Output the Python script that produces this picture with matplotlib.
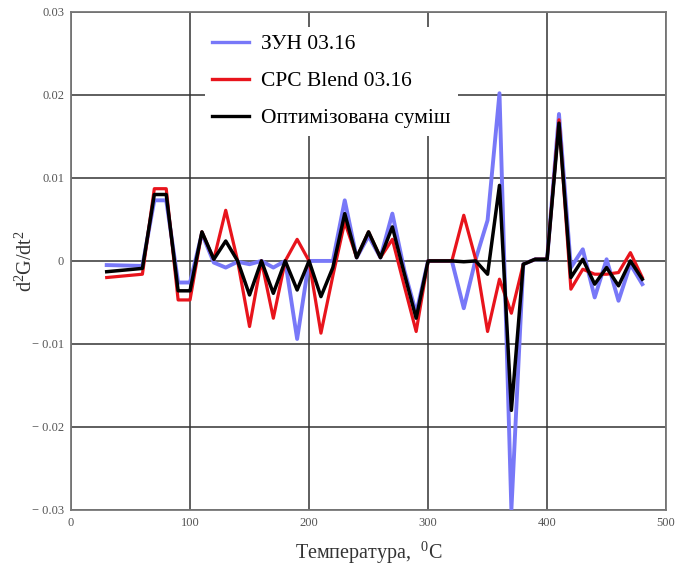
import matplotlib
matplotlib.use("Agg")
import matplotlib.pyplot as plt

plt.rcParams['font.family'] = ['Liberation Serif', 'DejaVu Serif']
plt.rcParams['mathtext.fontset'] = 'custom'
plt.rcParams['mathtext.rm'] = 'Liberation Serif'
plt.rcParams['mathtext.it'] = 'Liberation Serif'

temp = [30, 60, 70, 80, 90, 100, 110, 120, 130, 140, 150, 160, 170, 180, 190,
        200, 210, 220, 230, 240, 250, 260, 270, 280, 290, 300, 310, 320, 330,
        340, 350, 360, 370, 380, 390, 400, 410, 420, 430, 440, 450, 460, 470, 480]

zun = [-0.0005, -0.0006, 0.0073, 0.0073, -0.0026, -0.0026, 0.0033, -0.0002,
       -0.0008, -0.0001, -0.0004, 0.0, -0.0008, 0.0, -0.0094,
       0.0, 0.0, 0.0, 0.0073, 0.0004, 0.0030, 0.0004, 0.0057, -0.0011, -0.0063,
       0.0, 0.0, 0.0, -0.0057,
       0.0002, 0.0049, 0.0202, -0.0300, -0.0004, 0.0002, 0.0002, 0.0177, -0.0008,
       0.0014, -0.0044, 0.0002, -0.0048, -0.0004, -0.0028]

cpc = [-0.0020, -0.0016, 0.0087, 0.0087, -0.0047, -0.0047, 0.0035, 0.0002,
       0.0061, 0.0, -0.0079, 0.0, -0.0069, 0.0, 0.0026,
       0.0, -0.0087, -0.0018, 0.0047, 0.0004, 0.0035, 0.0004, 0.0026, -0.0030, -0.0085,
       0.0, 0.0, 0.0, 0.0055,
       0.0002, -0.0085, -0.0022, -0.0063, -0.0004, 0.0002, 0.0002, 0.0170, -0.0034,
       -0.0010, -0.0016, -0.0016, -0.0014, 0.0010, -0.0020]

opt = [-0.0013, -0.0009, 0.0080, 0.0080, -0.0036, -0.0036, 0.0035, 0.0002,
       0.0024, 0.0, -0.0041, 0.0, -0.0039, 0.0, -0.0035,
       0.0, -0.0043, -0.0008, 0.0057, 0.0004, 0.0035, 0.0004, 0.0041, -0.0015, -0.0069,
       0.0, 0.0, 0.0, -0.0001,
       0.0, -0.0016, 0.0091, -0.0180, -0.0004, 0.0002, 0.0002, 0.0166, -0.0020,
       0.0002, -0.0028, -0.0008, -0.0030, 0.0, -0.0022]

labels = ['ЗУН 03.16', 'CPC Blend 03.16', 'Оптимізована суміш']
xticks = [0, 100, 200, 300, 400, 500]
yticks = [-0.03, -0.02, -0.01, 0, 0.01, 0.02, 0.03]
ytick_labels = ['\u2212 0.03', '\u2212 0.02', '\u2212 0.01', '0', '0.01', '0.02', '0.03']

fig = plt.figure(figsize=(6.86, 5.66), dpi=100)
ax = fig.add_axes([0.1035, 0.099, 0.8675, 0.880])

ax.plot(temp, zun, color='#7878f8', lw=2.8, label=labels[0], zorder=3)
ax.plot(temp, cpc, color='#e8141c', lw=2.3, label=labels[1], zorder=4)
ax.plot(temp, opt, color='black', lw=2.5, label=labels[2], zorder=5)

ax.set_xlim(0, 500)
ax.set_ylim(-0.03, 0.03)
ax.set_xticks(xticks)
ax.set_xticklabels([str(t) for t in xticks])
ax.set_yticks(yticks)
ax.set_yticklabels(ytick_labels)
ax.tick_params(length=0, labelsize=9, colors='#555555', pad=5)
ax.grid(True, color='#333333', lw=1.1)
ax.set_axisbelow(True)
for s in ax.spines.values():
    s.set_color('#777777')
    s.set_linewidth(1.3)

ax.set_xlabel('Температура,  $^{0}$C', fontsize=14.5, color='#333333', labelpad=8)
ax.set_ylabel('d$^{2}$G/dt$^{2}$', fontsize=14.5, color='#333333')
ax.yaxis.set_label_coords(-0.058, 0.5)

leg = ax.legend(loc='upper left', bbox_to_anchor=(0.225, 0.97), frameon=True,
                fontsize=15.5, handlelength=1.7, labelspacing=0.78,
                borderpad=0.35, handletextpad=0.55, borderaxespad=0.0)
leg.get_frame().set_edgecolor('none')
leg.get_frame().set_facecolor('white')
leg.get_frame().set_alpha(1.0)
leg.get_frame().set_boxstyle('square', pad=0.0)
for h in leg.get_lines():
    h.set_linewidth(2.4)

fig.savefig('out.png', dpi=100)
